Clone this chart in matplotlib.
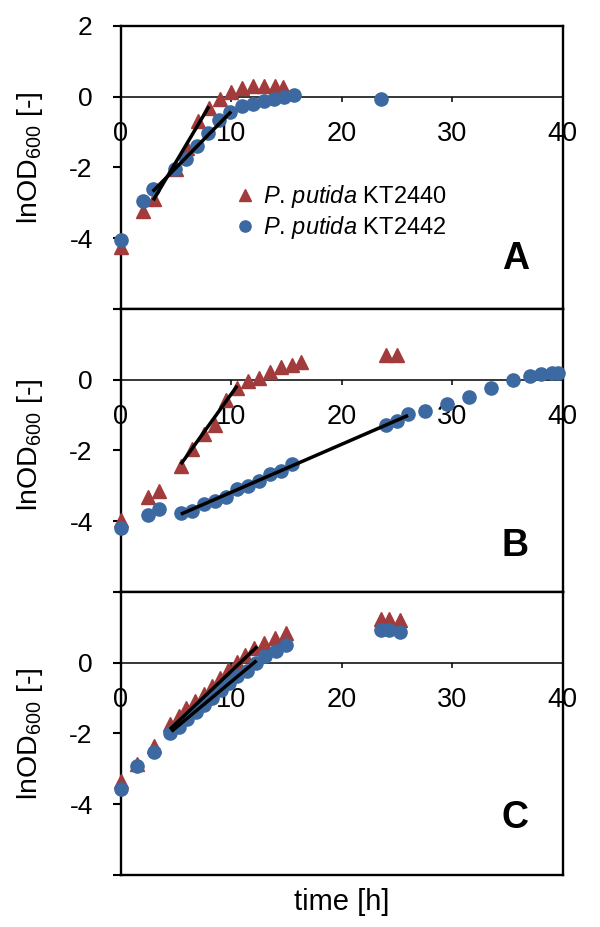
"""Growth curves of P. putida KT2440 / KT2442 in three conditions (A, B, C)."""
import matplotlib
matplotlib.use("Agg")
import matplotlib.pyplot as plt

plt.rcParams["font.family"] = ["Liberation Sans", "DejaVu Sans"]
plt.rcParams["mathtext.fontset"] = "custom"
plt.rcParams["mathtext.rm"] = "Liberation Sans"
plt.rcParams["mathtext.it"] = "Liberation Sans:italic"
plt.rcParams["axes.unicode_minus"] = False

# ---- data (time [h], lnOD600) ----
tA_2440 = [0, 2, 3, 5, 6, 7, 8, 9, 10, 11, 12, 13, 14, 14.7]
yA_2440 = [-4.25, -3.22, -2.90, -2.05, -1.46, -0.70, -0.32, -0.06, 0.12, 0.24, 0.29, 0.30, 0.31, 0.27]
tA_2442 = [0, 2, 2.9, 4.95, 5.9, 6.9, 7.95, 8.9, 9.9, 10.95, 12.0, 12.95, 13.9, 14.8, 15.65, 23.55]
yA_2442 = [-4.04, -2.96, -2.61, -2.05, -1.75, -1.40, -1.02, -0.67, -0.43, -0.27, -0.20, -0.13, -0.07, 0.0, 0.05, -0.06]
fitA_2440 = ([2.95, 8.0], [-2.93, -0.27])
fitA_2442 = ([2.9, 10.0], [-2.68, -0.42])

tB_2440 = [0, 2.45, 3.45, 5.45, 6.5, 7.55, 8.5, 9.5, 10.55, 11.5, 12.5, 13.5, 14.5, 15.5, 16.3, 24.0, 25.0]
yB_2440 = [-3.96, -3.32, -3.14, -2.44, -1.95, -1.53, -1.27, -0.56, -0.23, -0.05, 0.05, 0.22, 0.37, 0.41, 0.49, 0.70, 0.70]
tB_2442 = [0, 2.45, 3.45, 5.45, 6.5, 7.55, 8.5, 9.5, 10.55, 11.5, 12.5, 13.5, 14.5, 15.5,
           24.0, 25.0, 26.0, 27.5, 29.5, 31.5, 33.5, 35.5, 37.0, 38.0, 39.0, 39.6]
yB_2442 = [-4.19, -3.82, -3.65, -3.77, -3.70, -3.51, -3.43, -3.31, -3.10, -3.00, -2.87, -2.67, -2.57, -2.37,
           -1.29, -1.17, -0.98, -0.87, -0.68, -0.48, -0.23, 0.0, 0.11, 0.16, 0.20, 0.20]
fitB_2440 = ([5.45, 10.55], [-2.39, -0.17])
fitB_2442 = ([5.45, 26.0], [-3.80, -1.01])

tC_2440 = [0, 1.5, 3.0, 4.5, 5.25, 5.95, 6.7, 7.5, 8.25, 9.0, 9.75, 10.5, 11.25, 12.1, 13.0, 14.0, 15.0, 23.55, 24.3, 25.25]
yC_2440 = [-3.35, -2.85, -2.35, -1.74, -1.50, -1.29, -1.08, -0.88, -0.66, -0.43, -0.20, 0.02, 0.22, 0.43, 0.55, 0.69, 0.84, 1.23, 1.23, 1.20]
tC_2442 = [0, 1.5, 3.0, 4.5, 5.3, 6.05, 6.8, 7.55, 8.3, 9.05, 9.8, 10.55, 11.4, 12.25, 13.05, 14.05, 15.0, 23.55, 24.3, 25.25]
yC_2442 = [-3.58, -2.92, -2.53, -2.00, -1.81, -1.60, -1.38, -1.20, -0.99, -0.78, -0.57, -0.38, -0.22, -0.01, 0.18, 0.32, 0.50, 0.92, 0.92, 0.88]
fitC_2440 = ([4.46, 12.37], [-1.88, 0.46])
fitC_2442 = ([4.6, 12.3], [-1.94, 0.06])

panels = [
    ("A", tA_2440, yA_2440, tA_2442, yA_2442, fitA_2440, fitA_2442, -4.59, 0.535),
    ("B", tB_2440, yB_2440, tB_2442, yB_2442, fitB_2440, fitB_2442, -4.71, 0.52),
    ("C", tC_2440, yC_2440, tC_2442, yC_2442, fitC_2440, fitC_2442, -4.38, 0.5),
]
strain_labels = [r"$\it{P}$. $\it{putida}$ KT2440", r"$\it{P}$. $\it{putida}$ KT2442"]
red = "#A23B3B"
blue = "#3C69A1"

fig = plt.figure(figsize=(6, 9.27), dpi=100)
left, width = 0.201, 0.737
bottoms = [0.6667, 0.3614, 0.0561]
height = 0.3053

for i, (tag, t1, y1, t2, y2, f1, f2, tag_y, lab_y) in enumerate(panels):
    ax = fig.add_axes([left, bottoms[i], width, height])
    ax.plot(t1, y1, ls="none", marker="^", ms=9.5, color=red, clip_on=False, zorder=3,
            label=strain_labels[0])
    ax.plot(t2, y2, ls="none", marker="o", ms=9.5, color=blue, clip_on=False, zorder=4,
            label=strain_labels[1])
    ax.plot(*f1, color="k", lw=2.5, zorder=5, solid_capstyle="butt")
    ax.plot(*f2, color="k", lw=2.5, zorder=5, solid_capstyle="butt")

    ax.set_xlim(0, 40)
    ax.set_ylim(-6, 2)
    ax.set_xticks([0, 10, 20, 30, 40])
    ax.set_yticks([-6, -4, -2, 0, 2])
    ax.set_yticklabels(["", "-4", "-2", "0", "2" if i == 0 else ""])

    for side in ("left", "right", "top"):
        ax.spines[side].set_linewidth(1.7)
    ax.spines["bottom"].set_position(("data", 0))
    ax.spines["bottom"].set_linewidth(1.1)
    ax.axhline(-6, color="k", lw=1.7, clip_on=False, zorder=6)

    ax.tick_params(axis="x", direction="out", length=3.5, width=1.1, pad=14, labelsize=19.5)
    ax.tick_params(axis="y", direction="out", length=6, width=1.5, pad=14, labelsize=19)

    ax.set_ylabel(r"lnOD$_\mathregular{600}$ [-]", fontsize=20.5)
    ax.yaxis.set_label_coords(-0.17, lab_y)

    ax.text(35.7, tag_y, tag, fontsize=27, fontweight="bold", ha="center", va="center")

    if i == 0:
        ax.legend(loc="upper left", bbox_to_anchor=(0.255, 0.445), frameon=False,
                  fontsize=17, handlelength=1.0, handletextpad=0.25, labelspacing=0.18,
                  borderpad=0, borderaxespad=0, markerscale=0.85)
    if i == 2:
        ax.set_xlabel("time [h]", fontsize=21)
        ax.xaxis.set_label_coords(0.5, -0.045)

fig.savefig("out.png", dpi=100)
plt.close(fig)
